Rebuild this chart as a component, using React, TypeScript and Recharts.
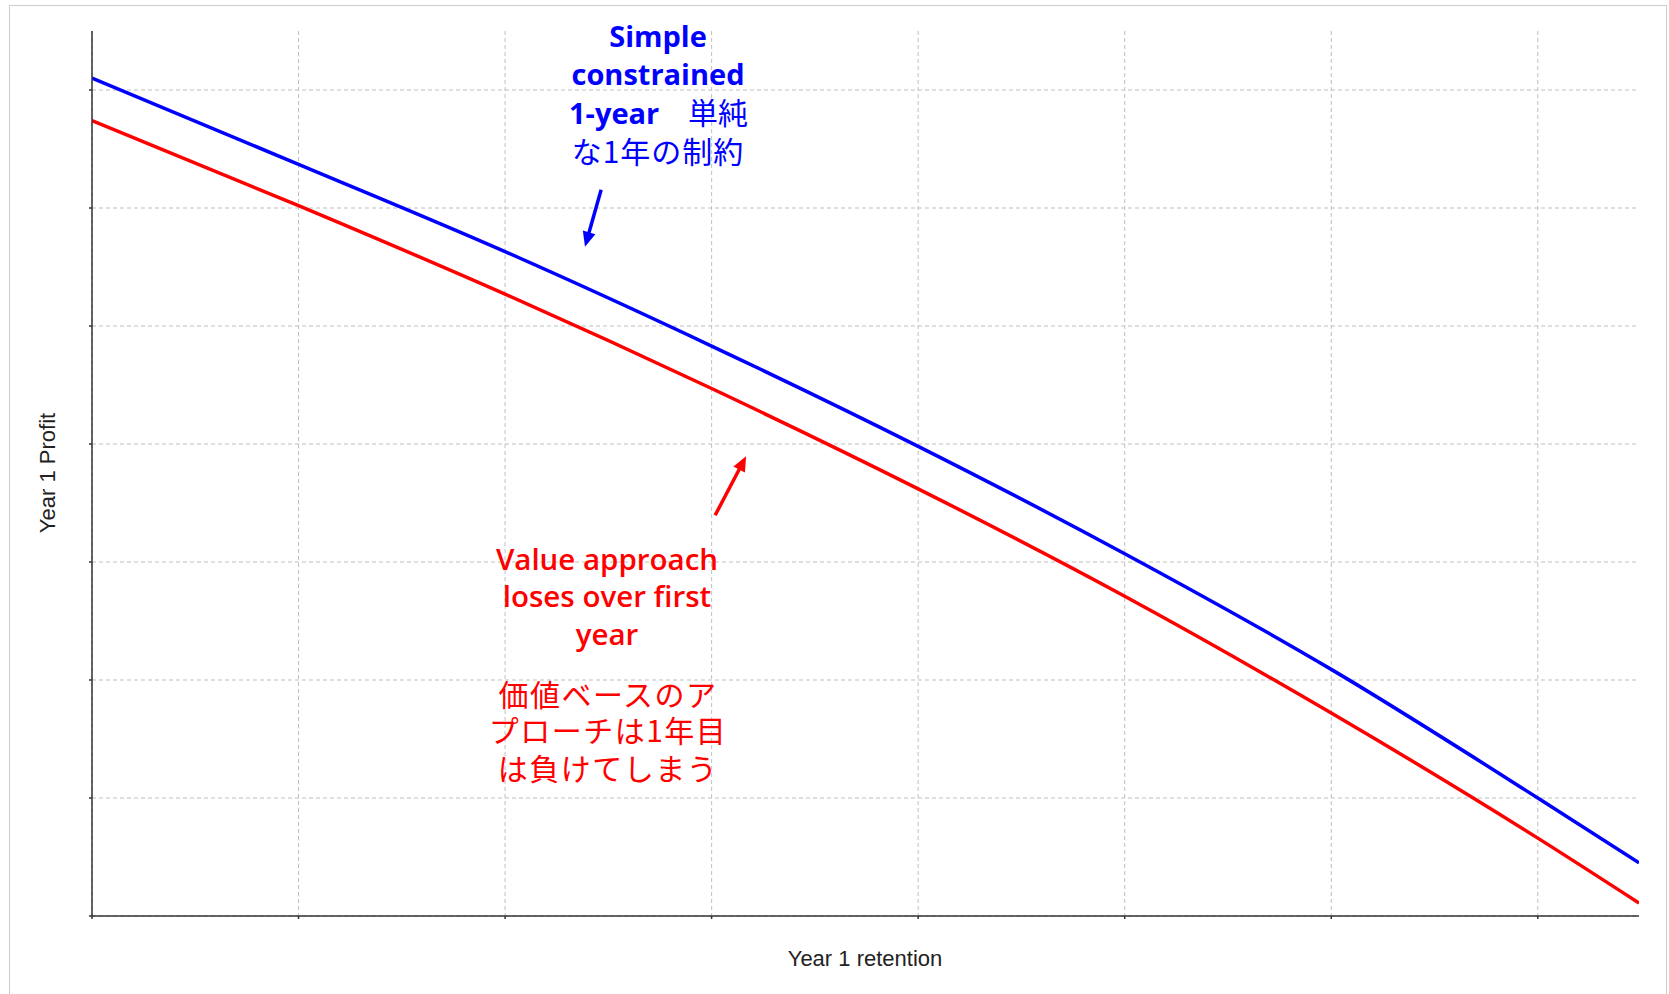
import React from 'react';
import { LineChart, Line, XAxis, YAxis, CartesianGrid, ReferenceLine } from 'recharts';

// Year 1 retention (x) and Year 1 profit (y) (no tick labels shown)
const retention = [0, 1, 2, 3, 4, 5, 6, 7, 7.49];
const simpleProfit = [7.1, 6.37, 5.63, 4.83, 3.98, 3.07, 2.09, 1.0, 0.45];
const valueProfit = [6.74, 6.02, 5.27, 4.47, 3.62, 2.71, 1.72, 0.66, 0.11];
const xTicks = [0, 1, 2, 3, 4, 5, 6, 7];
const yTicks = [0, 1, 2, 3, 4, 5, 6, 7];

// annotation arrows in data units: tail -> tip
const blueArrow = [{ x: 2.465, y: 6.155 }, { x: 2.387, y: 5.671 }];
const redArrow = [{ x: 3.017, y: 3.396 }, { x: 3.167, y: 3.896 }];

const data = retention.map((x, i) => ({ x, simple: simpleProfit[i], value: valueProfit[i] }));

const EN = '"Open Sans", "Noto Sans", sans-serif';
const JP = '"Noto Sans CJK JP", sans-serif';
const LABEL = '"Liberation Sans", Arial, sans-serif';

const arrowShape = (color: string) => (props: any) => {
  const { x1, y1, x2, y2 } = props;
  const dx = x2 - x1;
  const dy = y2 - y1;
  const len = Math.sqrt(dx * dx + dy * dy) || 1;
  const ux = dx / len;
  const uy = dy / len;
  const head = 15;
  const half = 6.5;
  const bx = x2 - ux * head;
  const by = y2 - uy * head;
  const pts = `${x2},${y2} ${bx - uy * half},${by + ux * half} ${bx + uy * half},${by - ux * half}`;
  return (
    <g>
      <line x1={x1} y1={y1} x2={bx + ux * 2} y2={by + uy * 2} stroke={color} strokeWidth={3.5} />
      <polygon points={pts} fill={color} />
    </g>
  );
};

// no tick labels, but keep the tiny tick marks
const noLabel = () => <g />;

const App: React.FC = () => {
  return (
    <div style={{ position: 'absolute', left: 0, top: 0, width: 1669, height: 994, overflow: 'hidden', background: '#fff' }}>
      <div style={{ position: 'absolute', left: 9, top: 5, width: 1656, height: 1100, border: '1px solid #cccccc' }} />
      <div style={{ position: 'absolute', left: 0, top: 0 }}>
        <LineChart width={1669} height={994} data={data} margin={{ top: 31, right: 30, bottom: 74, left: 88 }}>
          <CartesianGrid stroke="#bfbfbf" strokeDasharray="4 3" horizontalValues={yTicks} verticalValues={xTicks} />
          <XAxis
            type="number"
            dataKey="x"
            domain={[0, 7.49]}
            ticks={xTicks}
            tick={noLabel}
            tickSize={3}
            height={4}
            stroke="#333"
            strokeWidth={1.5}
            allowDataOverflow
          />
          <YAxis
            type="number"
            domain={[0, 7.5]}
            ticks={yTicks}
            tick={noLabel}
            tickSize={3}
            width={4}
            stroke="#333"
            strokeWidth={1.5}
            allowDataOverflow
          />
          <Line type="monotone" dataKey="simple" stroke="#0000ff" strokeWidth={3.5} dot={false} isAnimationActive={false} />
          <Line type="monotone" dataKey="value" stroke="#ff0000" strokeWidth={3.5} dot={false} isAnimationActive={false} />
          <ReferenceLine segment={blueArrow} ifOverflow="visible" shape={arrowShape('#0000ff')} />
          <ReferenceLine segment={redArrow} ifOverflow="visible" shape={arrowShape('#ff0000')} />
        </LineChart>
      </div>
      <svg width={1669} height={994} style={{ position: 'absolute', left: 0, top: 0, pointerEvents: 'none' }}>
        <text x={55} y={473} transform="rotate(-90 55 473)" textAnchor="middle" fontFamily={LABEL} fontSize={22} fill="#222">
          Year 1 Profit
        </text>
        <text x={865} y={966} textAnchor="middle" fontFamily={LABEL} fontSize={22} fill="#222">
          Year 1 retention
        </text>

        <g fill="#0000ff">
          <text x={658} y={47} textAnchor="middle" fontFamily={EN} fontWeight={700} fontSize={29}>Simple</text>
          <text x={658} y={85} textAnchor="middle" fontFamily={EN} fontWeight={700} fontSize={29}>constrained</text>
          <text x={569} y={124} fontFamily={EN} fontWeight={700} fontSize={29}>1-year</text>
          <text x={688} y={124} fontFamily={JP} fontSize={30}>単純</text>
          <text x={658} y={163} textAnchor="middle" fontFamily={JP} fontSize={30} letterSpacing={1}>な1年の制約</text>
        </g>

        <g fill="#ff0000">
          <text x={607} y={570} textAnchor="middle" fontFamily={EN} fontWeight={600} fontSize={29.5}>Value approach</text>
          <text x={607} y={607} textAnchor="middle" fontFamily={EN} fontWeight={600} fontSize={29.5}>loses over first</text>
          <text x={607} y={645} textAnchor="middle" fontFamily={EN} fontWeight={600} fontSize={29.5}>year</text>
          <text x={608} y={706} textAnchor="middle" fontFamily={JP} fontSize={30} letterSpacing={1.5}>価値ベースのア</text>
          <text x={608} y={742} textAnchor="middle" fontFamily={JP} fontSize={30} letterSpacing={1.5}>プローチは1年目</text>
          <text x={608} y={780} textAnchor="middle" fontFamily={JP} fontSize={30} letterSpacing={1.5}>は負けてしまう</text>
        </g>
      </svg>
    </div>
  );
};

export default App;
